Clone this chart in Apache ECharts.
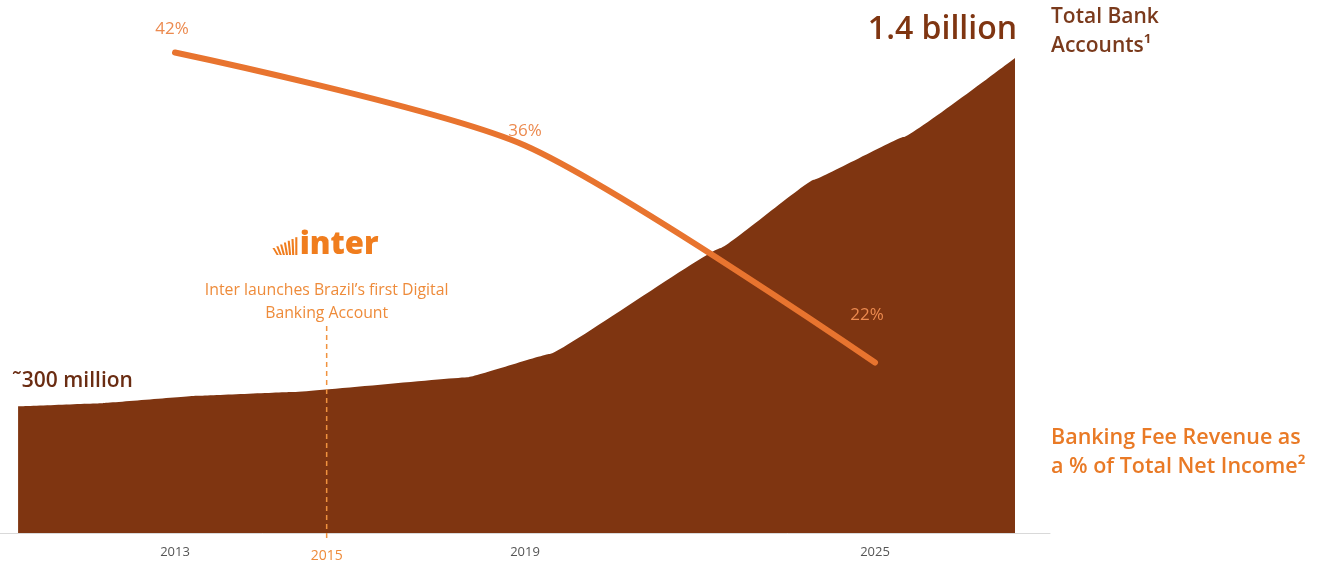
<!DOCTYPE html>
<html>
<head>
<meta charset="utf-8">
<script src="https://cdn.jsdelivr.net/npm/echarts@6/dist/echarts.min.js"></script>
<style>
  html, body { margin: 0; padding: 0; background: #ffffff; }
  #main { width: 1324px; height: 570px; }
</style>
</head>
<body>
<div id="main"></div>
<script>
// Total bank accounts in Brazil (millions), by year
const accountYears = [2010.31, 2011.76, 2013.38, 2015.01, 2018.03, 2019.42, 2022.36, 2023.95, 2025.49, 2027.40];
const accountsMillions = [300, 310, 333, 345, 392, 465, 800, 1015, 1150, 1400];

// Banking fee revenue as a share of total net income (%)
const feeYears = [2013, 2019, 2025];
const feeSharePct = [42, 36, 22];

// Year labels shown under the axis
const axisYears = [2013, 2019, 2025];

// Inter's digital account launch
const launchYear = 2015.6;
const launchLabel = '2015';

const BROWN = '#7F3511';
const BROWN_TEXT = '#7A3A1C';
const ORANGE_LINE = '#E8742F';
const ORANGE_LABEL = '#EC8A4F';
const ORANGE_TEXT = '#EE8B3A';
const FONT = '"Open Sans", "Noto Sans", sans-serif';

const chart = echarts.init(document.getElementById('main'));

// Label placement for each point of the fee-share line
const feeLabelStyle = [
  { distance: 15, offset: [-3, 0] },
  { distance: 6, offset: [0, 0] },
  { distance: 39, offset: [-8, 0] }
];

const accountData = accountYears.map((y, i) => {
  const item = { value: [y, accountsMillions[i]] };
  if (i === 0) {
    item.label = {
      show: true, position: 'top', align: 'left', distance: 15, offset: [-6, 0],
      formatter: p => '\u02DC' + p.value[1] + ' million',
      color: '#6A2C12', fontSize: 21, fontWeight: 600, fontFamily: FONT
    };
  } else if (i === accountYears.length - 1) {
    item.label = {
      show: true, position: 'top', align: 'right', distance: 12, offset: [2, 0],
      formatter: p => (p.value[1] / 1000).toFixed(1) + ' billion',
      color: BROWN, fontSize: 32, fontWeight: 600, fontFamily: FONT
    };
  }
  return item;
});

const feeData = feeYears.map((y, i) => ({
  value: [y, feeSharePct[i]],
  label: feeLabelStyle[i]
}));

chart.setOption({
  animation: false,
  grid: { left: -3, right: 274, top: 21.5, bottom: 37 },
  xAxis: {
    type: 'value', min: 2010, max: 2028,
    axisLine: { show: true, onZero: false, lineStyle: { color: '#d9d9d9', width: 1 } },
    axisTick: { show: false },
    splitLine: { show: false },
    axisLabel: {
      customValues: axisYears,
      formatter: v => String(v),
      color: '#555555', fontSize: 13, margin: 13, fontFamily: FONT
    }
  },
  yAxis: [
    { type: 'value', min: -100, max: 1515, show: false },
    { type: 'value', min: 11, max: 44, show: false }
  ],
  series: [
    {
      name: 'Total Bank Accounts',
      type: 'line',
      data: accountData,
      smooth: 0.06,
      smoothMonotone: 'x',
      symbol: 'circle',
      symbolSize: 0,
      showAllSymbol: true,
      lineStyle: { width: 0 },
      itemStyle: { color: BROWN },
      areaStyle: { color: BROWN, opacity: 1, origin: 'start' },
      silent: true,
      z: 2
    },
    {
      name: 'Banking Fee Revenue',
      type: 'line',
      yAxisIndex: 1,
      data: feeData,
      smooth: 0.25,
      symbol: 'circle',
      symbolSize: 0,
      lineStyle: { color: ORANGE_LINE, width: 6, cap: 'round' },
      itemStyle: { color: ORANGE_LINE },
      label: {
        show: true, position: 'top',
        formatter: p => p.value[1] + '%',
        color: ORANGE_LABEL, fontSize: 17, fontFamily: FONT
      },
      silent: true,
      z: 3
    }
  ]
});

// Annotations placed from the axis scale
const lx = chart.convertToPixel({ xAxisIndex: 0 }, launchYear);

// Fan-shaped mark of the Inter logo
const fanBars = [];
for (let i = 0; i < 7; i++) {
  const h = 7 + i * 1.8;
  const x0 = lx - 50 + i * 3.1;
  const lean = (i - 6) * 0.7;
  fanBars.push({
    type: 'polygon', z: 50, silent: true,
    shape: { points: [[x0, 255], [x0 + 2.1, 255], [x0 + 2.1 + lean, 255 - h], [x0 + lean, 255 - h]] },
    style: { fill: '#F07D1E' }
  });
}

function label(text, x, y, font, fill, align) {
  return {
    type: 'text', x: x, y: y, z: 50, silent: true,
    style: { text: text, fill: fill, font: font, textAlign: align || 'left', textVerticalAlign: 'middle' }
  };
}

chart.setOption({
  graphic: [
    ...fanBars,
    label('inter', lx - 27, 245, '800 31px ' + FONT, '#F07D1E'),
    label('Inter launches Brazil\u2019s first Digital', lx, 290, '15.8px ' + FONT, ORANGE_TEXT, 'center'),
    label('Banking Account', lx, 313, '15.8px ' + FONT, ORANGE_TEXT, 'center'),
    {
      type: 'line', z: 50, silent: true,
      shape: { x1: lx, y1: 326, x2: lx, y2: 541 },
      style: { stroke: '#F0923F', lineWidth: 1.5, lineDash: [5, 4] }
    },
    label(launchLabel, lx, 556, '14px ' + FONT, ORANGE_TEXT, 'center'),
    label('Total Bank', 1051, 17, '600 21px ' + FONT, BROWN_TEXT),
    label('Accounts\u00B9', 1051, 46, '600 21px ' + FONT, BROWN_TEXT),
    label('Banking Fee Revenue as', 1051, 438, '600 21.5px ' + FONT, '#E97A26'),
    label('a % of Total Net Income\u00B2', 1051, 467, '600 21.5px ' + FONT, '#E97A26')
  ]
});
</script>
</body>
</html>
